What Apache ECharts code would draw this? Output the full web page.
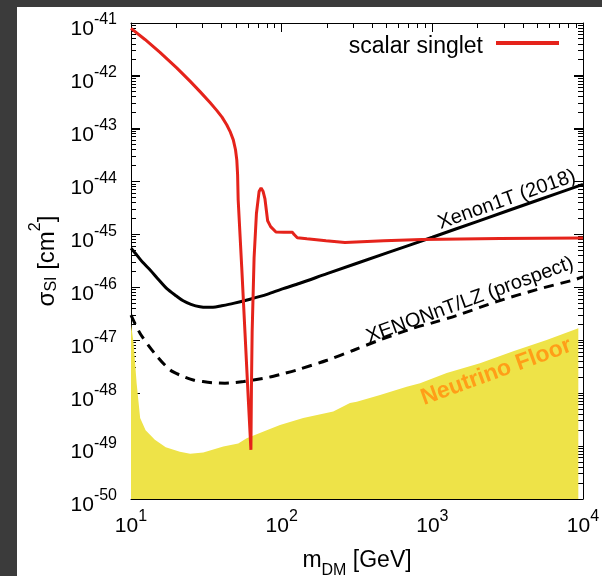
<!DOCTYPE html>
<html>
<head>
<meta charset="utf-8">
<script src="https://cdn.jsdelivr.net/npm/echarts@6/dist/echarts.min.js"></script>
<style>
html,body{margin:0;padding:0;background:#fff;}
#c{width:602px;height:576px;}
</style>
</head>
<body>
<div id="c"></div>
<script>
// ---------------- data (mass in GeV, cross-section in cm^2) ----------------
const singletMass = [10, 12.38, 15.57, 20.11, 24.64, 28.71, 33.44, 37.06, 40.18, 43.17, 45.41, 47.75, 49.39, 50.38, 51.0, 51.45, 54.3, 57.1, 60.1, 62.5, 63.0, 63.7, 65.6, 68.0, 70.8, 73.0, 75.2, 77.4, 80.7, 84.5, 91.6, 103.5, 118, 121, 127, 147, 197, 263, 477, 853, 2812, 10000];
const singletSigma = [7.94e-42, 4.88e-42, 2.79e-42, 1.42e-42, 7.97e-43, 5.04e-43, 3.13e-43, 2.23e-43, 1.66e-43, 1.19e-43, 8.95e-44, 6.16e-44, 4.01e-44, 2.55e-44, 1.34e-44, 4.5e-45, 2.45e-46, 1.38e-47, 7.4e-49, 8.5e-50, 1.26e-48, 1.48e-47, 3.6e-46, 2.5e-45, 6.5e-45, 7.6e-45, 6.6e-45, 4.8e-45, 1.82e-45, 1.41e-45, 1.12e-45, 1.1e-45, 1.1e-45, 1.0e-45, 8.7e-46, 8.3e-46, 7.6e-46, 7.1e-46, 7.6e-46, 8.1e-46, 8.4e-46, 8.6e-46];

const xenon1tMass = [10, 11, 12, 13.4, 15, 17.3, 20, 22.2, 25, 28.7, 32, 35, 40, 47.8, 61.7, 80, 100, 132, 200, 500, 1000, 2000, 5000, 10000];
const xenon1tSigma = [5.5e-46, 4.0e-46, 2.95e-46, 2.14e-46, 1.48e-46, 9.5e-47, 6.9e-47, 5.6e-47, 4.8e-47, 4.3e-47, 4.2e-47, 4.2e-47, 4.5e-47, 5.0e-47, 6.0e-47, 7.4e-47, 9.3e-47, 1.2e-46, 1.82e-46, 4.5e-46, 8.9e-46, 1.78e-45, 4.45e-45, 8.9e-45];

const xenonntMass = [10, 11.5, 14.4, 18.2, 22, 25.9, 30, 35, 42, 48, 56, 65, 82, 100, 126, 200, 300, 450, 748, 1000, 1452, 2675, 4930, 8630, 10000];
const xenonntSigma = [3.0e-47, 1.35e-47, 5.6e-48, 2.75e-48, 2.1e-48, 1.78e-48, 1.66e-48, 1.58e-48, 1.55e-48, 1.58e-48, 1.66e-48, 1.78e-48, 2.0e-48, 2.3e-48, 2.75e-48, 4.2e-48, 6.5e-48, 1.02e-47, 1.7e-47, 2.14e-47, 2.95e-47, 5.4e-47, 9.1e-47, 1.38e-46, 1.58e-46];

const floorMass = [10, 10.4, 10.9, 11.5, 12.5, 14.4, 17, 21.1, 24.7, 30.2, 41, 51.5, 58.6, 79.6, 97.5, 139, 220, 284, 315, 450, 676, 829, 1245, 2070, 3444, 5740, 9310];
const floorSigma = [2.04e-47, 8.9e-48, 1.55e-48, 3.4e-49, 2.0e-49, 1.32e-49, 9.5e-50, 7.8e-50, 7.2e-50, 7.6e-50, 9.8e-50, 1.12e-49, 1.41e-49, 2.0e-49, 2.5e-49, 3.4e-49, 4.5e-49, 6.5e-49, 6.9e-49, 9.3e-49, 1.32e-48, 1.55e-48, 2.4e-48, 3.7e-48, 6.2e-48, 1.02e-47, 1.7e-47];

const xExponents = [1, 2, 3, 4];
const yExponents = [-50, -49, -48, -47, -46, -45, -44, -43, -42, -41];

const seriesNames = ['scalar singlet', 'Xenon1T (2018)', 'XENONnT/LZ (prospect)', 'Neutrino Floor'];
const annotationText = ['Xenon1T (2018)', 'XENONnT/LZ (prospect)', 'Neutrino Floor'];
const annotationMass = [3119, 1778, 2655];
const annotationSigma = [4.57e-45, 5.75e-47, 2.53e-48];

// ---------------- build ----------------
// y axis runs in units of 1e-50 cm^2 (ECharts' log scale loses precision near 1e-50);
// the tick labels add the exponent back.
const Y_EXP0 = yExponents[0];
const Y_UNIT = Math.pow(10, Y_EXP0);
const toUnit = s => s / Y_UNIT;
const FONT = '"Liberation Sans", Arial, Helvetica, sans-serif';
const X_MIN = Math.pow(10, xExponents[0]), X_MAX = Math.pow(10, xExponents[xExponents.length - 1]);
const Y_MIN = 1, Y_MAX = Math.pow(10, yExponents[yExponents.length - 1] - Y_EXP0);
const zip = (a, b) => a.map((v, i) => [v, toUnit(b[i])]);

const yTickData = [];
for (let i = 0; i < yExponents.length; i++) {
  const e = yExponents[i] - Y_EXP0;
  yTickData.push([X_MIN, Math.pow(10, e), 1]);
  if (i < yExponents.length - 1) for (let k = 2; k <= 9; k++) yTickData.push([X_MIN, k * Math.pow(10, e), 0]);
}
const xTickData = [];
for (let i = 0; i < xExponents.length; i++) {
  const e = xExponents[i];
  xTickData.push([Math.pow(10, e), Y_MIN, 1]);
  if (i < xExponents.length - 1) for (let k = 2; k <= 9; k++) xTickData.push([k * Math.pow(10, e), Y_MIN, 0]);
}
const annotationData = annotationText.map((t, i) => [annotationMass[i], toUnit(annotationSigma[i]), i]);
const annotationStyle = [
  { rot: 19.5, font: 'normal 20px ' + FONT, fill: '#000' },
  { rot: 20, font: 'normal 20px ' + FONT, fill: '#000' },
  { rot: 20, font: 'bold 23px ' + FONT, fill: '#ff9e18' }
];

const pxCrisp = v => Math.floor(v) + 0.5;

const labelRich = {
  b: { fontSize: 21, fontFamily: FONT, color: '#000', lineHeight: 28, verticalAlign: 'bottom' },
  s: { fontSize: 16, fontFamily: FONT, color: '#000', verticalAlign: 'top' }
};
const xFormatter = v => '{b|10}{s|' + Math.round(Math.log10(v)) + '}';
const yFormatter = v => '{b|10}{s|' + (Math.round(Math.log10(v)) + Y_EXP0) + '}';

function yTickItem(params, api) {
  const v = api.value(1), L = api.value(2) ? 9 : 5;
  const p1 = api.coord([X_MIN, v]), p2 = api.coord([X_MAX, v]);
  const y = pxCrisp(p1[1]);
  return { type: 'group', children: [
    { type: 'line', shape: { x1: p1[0], y1: y, x2: p1[0] + L, y2: y }, style: { stroke: '#000', lineWidth: 1 } },
    { type: 'line', shape: { x1: p2[0], y1: y, x2: p2[0] - L, y2: y }, style: { stroke: '#000', lineWidth: 1 } }
  ] };
}
function xTickItem(params, api) {
  const v = api.value(0), L = api.value(2) ? 9 : 5;
  const p1 = api.coord([v, Y_MIN]), p2 = api.coord([v, Y_MAX]);
  const x = pxCrisp(p1[0]);
  return { type: 'group', children: [
    { type: 'line', shape: { x1: x, y1: p1[1], x2: x, y2: p1[1] - L }, style: { stroke: '#000', lineWidth: 1 } },
    { type: 'line', shape: { x1: x, y1: p2[1], x2: x, y2: p2[1] + L }, style: { stroke: '#000', lineWidth: 1 } }
  ] };
}

const axisCommon = {
  type: 'log', logBase: 10, z: 1,
  axisLine: { show: true, lineStyle: { color: '#000', width: 1 } },
  axisTick: { show: true, inside: true, length: 9, lineStyle: { color: '#000', width: 1 } },
  splitLine: { show: false }
};

const chart = echarts.init(document.getElementById('c'), null, { renderer: 'canvas' });
const option = {
  animation: false,
  backgroundColor: '#fff',
  grid: { left: 131, top: 23, width: 452, height: 476, outerBoundsMode: 'none' },
  graphic: [
    { type: 'rect', shape: { x: 0, y: 0, width: 17, height: 576 }, style: { fill: '#3b3b3b' }, z: 100 },
    { type: 'rect', shape: { x: 0, y: 0, width: 602, height: 7 }, style: { fill: '#3b3b3b' }, z: 100 }
  ],
  legend: {
    data: [{ name: seriesNames[0], icon: 'rect' }],
    right: 43, top: 35, align: 'right', padding: 0,
    itemWidth: 63, itemHeight: 4,
    formatter: n => '{t|' + n + '}',
    textStyle: { rich: { t: { fontSize: 23, fontFamily: FONT, color: '#000', padding: [7, 8, 0, 0] } } },
    selectedMode: false
  },
  xAxis: [
    Object.assign({}, axisCommon, { min: X_MIN, max: X_MAX, position: 'bottom',
      axisLabel: { formatter: xFormatter, rich: labelRich, margin: 10 },
      name: '{m|m}{sub|DM}{m| [GeV]}', nameLocation: 'middle', nameGap: 50,
      nameTextStyle: { rich: {
        m: { fontSize: 23, fontFamily: FONT, color: '#000', lineHeight: 23, verticalAlign: 'top' },
        sub: { fontSize: 16, fontFamily: FONT, color: '#000', verticalAlign: 'bottom', lineHeight: 30 }
      } } }),
    Object.assign({}, axisCommon, { min: X_MIN, max: X_MAX, position: 'top', axisLabel: { show: false } })
  ],
  yAxis: [
    Object.assign({}, axisCommon, { min: Y_MIN, max: Y_MAX, position: 'left',
      axisLabel: { formatter: yFormatter, rich: labelRich, margin: 14, padding: [6, 0, 0, 0] },
      name: '{a|σ}{sub|SI}{a| [cm}{sup|2}{a|]}', nameLocation: 'middle', nameRotate: 90, nameGap: 71,
      nameTextStyle: { rich: {
        a: { fontSize: 24, fontFamily: FONT, color: '#000', lineHeight: 32, verticalAlign: 'bottom' },
        sub: { fontSize: 16, fontFamily: FONT, color: '#000', verticalAlign: 'bottom', lineHeight: 16 },
        sup: { fontSize: 16, fontFamily: FONT, color: '#000', verticalAlign: 'top' }
      } } }),
    Object.assign({}, axisCommon, { min: Y_MIN, max: Y_MAX, position: 'right', axisLabel: { show: false } })
  ],
  series: [
    { type: 'custom', name: 'y ticks', z: 1, data: yTickData, encode: { x: 0, y: 1 }, renderItem: yTickItem },
    { type: 'custom', name: 'x ticks', z: 1, data: xTickData, encode: { x: 0, y: 1 }, renderItem: xTickItem },
    { type: 'line', name: seriesNames[3], data: zip(floorMass, floorSigma), symbol: 'none', z: 2, silent: true,
      lineStyle: { width: 0, color: '#eee348' }, itemStyle: { color: '#eee348' },
      areaStyle: { color: '#eee348', opacity: 1, origin: 'start' } },
    { type: 'line', name: seriesNames[1], data: zip(xenon1tMass, xenon1tSigma), symbol: 'none', z: 3, silent: true,
      smooth: 0.3, lineStyle: { color: '#000', width: 3 }, itemStyle: { color: '#000' } },
    { type: 'line', name: seriesNames[2], data: zip(xenonntMass, xenonntSigma), symbol: 'none', z: 3, silent: true,
      smooth: 0.3, lineStyle: { color: '#000', width: 3, type: [10, 7] }, itemStyle: { color: '#000' } },
    { type: 'line', name: seriesNames[0], data: zip(singletMass, singletSigma), symbol: 'none', z: 4, silent: true,
      lineStyle: { color: '#e5231b', width: 3 }, itemStyle: { color: '#e5231b' } },
    { type: 'custom', name: 'annotations', z: 4, silent: true, data: annotationData,
      encode: { x: 0, y: 1 },
      renderItem: function (params, api) {
        const p = api.coord([api.value(0), api.value(1)]);
        const st = annotationStyle[api.value(2)];
        return { type: 'text', x: p[0], y: p[1], rotation: st.rot * Math.PI / 180,
          style: { text: annotationText[api.value(2)], font: st.font, fill: st.fill, align: 'center', verticalAlign: 'middle' } };
      } }
  ]
};
chart.setOption(option);
</script>
</body>
</html>
